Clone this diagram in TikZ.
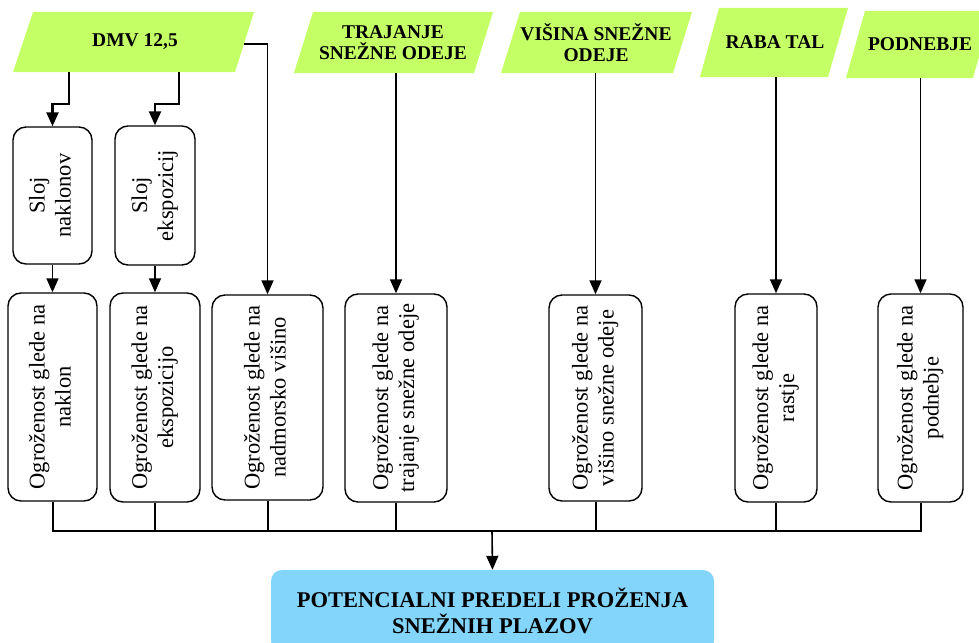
\documentclass[tikz,border=0pt]{standalone}
\usepackage{fontspec}
\setmainfont{Liberation Serif}
\usepackage{graphicx}
\usetikzlibrary{arrows.meta}

\definecolor{lblgreen}{HTML}{C5FF66}
\definecolor{resblue}{HTML}{83D5FC}

\tikzset{
  x=1pt, y=-1pt,
  lblfill/.style={fill=lblgreen, draw=none},
  toplbl/.style={font=\fontsize{19.5}{21}\selectfont\bfseries, align=center, inner sep=0pt, minimum width=150},
  stepbox/.style={draw=black, line width=1.4pt, rounded corners=13pt, fill=white, inner sep=0pt,
                  font=\fontsize{22.5}{26}\selectfont},
  conn/.style={draw=black, line width=1.6pt},
  thickconn/.style={draw=black, line width=2.4pt},
  tip/.style={-{Triangle[length=14pt,width=12pt]}},
  resbox/.style={fill=resblue, draw=none, rounded corners=11pt, inner sep=0pt,
                 font=\fontsize{22.5}{26}\selectfont\bfseries, align=center}
}
\newcommand{\vtext}[1]{\rotatebox{90}{\begin{tabular}{@{}c@{}}#1\end{tabular}}}

\begin{document}
\begin{tikzpicture}
\useasboundingbox (0,0) rectangle (979,642);

% input layers (parallelograms)
\fill[lblfill] (33,12) -- (254,12) -- (235,72) -- (13,72) -- cycle;
\node[toplbl, minimum height=60] (dmv) at (135,42) {DMV 12,5};

\fill[lblfill] (313,12) -- (493,12) -- (474,73) -- (294,73) -- cycle;
\node[toplbl, minimum height=61] (traj) at (393,42.5) {TRAJANJE\\SNEŽNE ODEJE};

\fill[lblfill] (520,12) -- (692,12) -- (673,73) -- (501,73) -- cycle;
\node[toplbl, minimum height=61] (vis) at (596,42.5) {VIŠINA SNEŽNE\\ODEJE};

\fill[lblfill] (719,8) -- (848,8) -- (828,77) -- (700,77) -- cycle;
\node[toplbl, minimum width=100, minimum height=69] (raba) at (775,42.5) {RABA TAL};

\fill[lblfill] (865,11) -- (992,11) -- (973,78) -- (846,78) -- cycle;
\node[toplbl, minimum width=100, minimum height=67] (podn) at (920,44.5) {PODNEBJE};

% derived layers
\node[stepbox, minimum width=79, minimum height=137] (sn) at (52.5,195.5) {\vtext{Sloj\\naklonov}};
\node[stepbox, minimum width=80, minimum height=139] (se) at (155,195.5) {\vtext{Sloj\\ekspozicij}};

% hazard layers
\node[stepbox, minimum width=89, minimum height=208] (o1) at (52.5,397) {\vtext{Ogroženost glede na\\naklon}};
\node[stepbox, minimum width=90, minimum height=209] (o2) at (155,397.5) {\vtext{Ogroženost glede na\\ekspozicijo}};
\node[stepbox, minimum width=111, minimum height=205] (o3) at (267.5,397.5) {\vtext{Ogroženost glede na\\nadmorsko višino}};
\node[stepbox, minimum width=102, minimum height=208] (o4) at (396,398) {\vtext{Ogroženost glede na\\trajanje snežne odeje}};
\node[stepbox, minimum width=93, minimum height=206] (o5) at (595.5,398) {\vtext{Ogroženost glede na\\višino snežne odeje}};
\node[stepbox, minimum width=82, minimum height=208] (o6) at (776,398) {\vtext{Ogroženost glede na\\rastje}};
\node[stepbox, minimum width=85, minimum height=208] (o7) at (920.5,398) {\vtext{Ogroženost glede na\\podnebje}};

% result
\node[resbox, minimum width=443, minimum height=82] (res) at (492.5,611)
  {POTENCIALNI PREDELI PROŽENJA\\SNEŽNIH PLAZOV};

% connectors from the elevation model
\draw[thickconn, tip] (69,0 |- dmv.south) -- (69,104) -| (sn.north);
\draw[thickconn, tip] (179,0 |- dmv.south) -- (179,104) -| (se.north);
\draw[conn, tip] (243.5,44) -| (o3.north);

\draw[conn, tip] (sn.south) -- (o1.north);
\draw[conn, tip] (se.south) -- (o2.north);

% connectors from the other inputs
\draw[conn, tip] (traj.south -| o4.north) -- (o4.north);
\draw[conn, tip] (vis.south -| o5.north) -- (o5.north);
\draw[conn, tip] (raba.south -| o6.north) -- (o6.north);
\draw[conn, tip] (podn.south -| o7.north) -- (o7.north);

% collecting bus
\coordinate (bus) at (492,531);
\draw[conn, line width=2pt] (o1.south) |- (bus);
\draw[conn, line width=2pt] (o7.south) |- (bus);
\foreach \n in {o2,o3,o4,o5,o6}
  \draw[conn, line width=2pt] (\n.south) -- (\n.south |- bus);
\draw[conn, tip] (bus) -- (res.north);
\end{tikzpicture}
\end{document}
